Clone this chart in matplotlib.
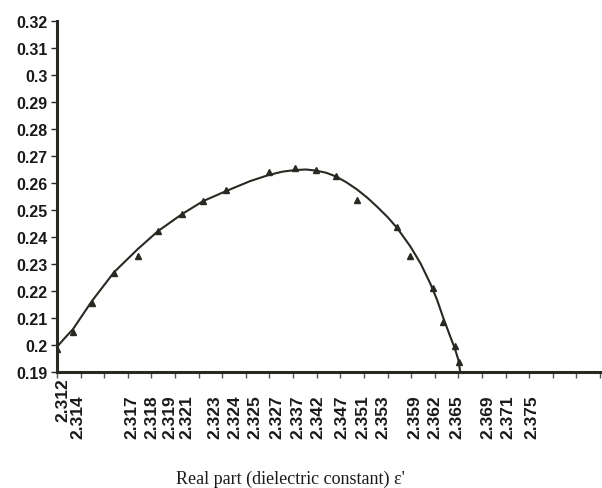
import matplotlib
matplotlib.use('Agg')
import matplotlib.pyplot as plt
import numpy as np

# x positions are in axis (category) units, 0..23
pt_x = [0.0, 0.68, 1.48, 2.42, 3.43, 4.28, 5.30, 6.19, 7.16, 8.98, 10.08,
        10.97, 11.82, 12.71, 14.41, 14.96, 15.93, 16.36, 16.86, 17.03]
pt_y = [0.1985, 0.2048, 0.2156, 0.2267, 0.2330, 0.2422, 0.2485, 0.2533,
        0.2574, 0.2641, 0.2656, 0.2648, 0.2626, 0.2537, 0.2437, 0.2330,
        0.2211, 0.2085, 0.1996, 0.1937]

# fitted curve
fit_x = [0.0, 0.3, 0.68, 1.48, 2.42, 3.43, 4.28, 5.30, 6.19, 7.16, 8.18,
         8.98, 9.55, 10.08, 10.55, 10.97, 11.40, 11.82, 12.25, 12.71, 13.15,
         13.56, 14.0, 14.41, 14.96, 15.40, 15.81, 16.10, 16.36, 16.62, 16.86,
         17.0, 17.08]
fit_y = [0.1993, 0.2023, 0.2059, 0.2163, 0.2270, 0.2356, 0.2422, 0.2485,
         0.2533, 0.2570, 0.2607, 0.2630, 0.2642, 0.2648, 0.2650, 0.2646,
         0.2638, 0.2624, 0.2603, 0.2576, 0.2545, 0.2512, 0.2474, 0.2433,
         0.2366, 0.2302, 0.2228, 0.2167, 0.2101, 0.2040, 0.1985, 0.1945,
         0.1900]

xlabels = ['2.312', '2.314', '2.317', '2.318', '2.319', '2.321', '2.323',
           '2.324', '2.325', '2.327', '2.337', '2.342', '2.347', '2.351',
           '2.353', '2.359', '2.362', '2.365', '2.369', '2.371', '2.375']
label_pos = [0.25, 0.89, 3.18, 4.03, 4.79, 5.51, 6.69, 7.54, 8.39, 9.32,
             10.21, 11.06, 12.08, 12.97, 13.81, 15.17, 16.02, 16.95, 18.26,
             19.11, 20.13]
yticks = [0.19, 0.2, 0.21, 0.22, 0.23, 0.24, 0.25, 0.26, 0.27, 0.28, 0.29,
          0.3, 0.31, 0.32]

ink = '#262a22'
fig = plt.figure(figsize=(6.02, 4.89), dpi=100)
ax = fig.add_axes([57 / 602, 116 / 489, 543 / 602, 351 / 489])

ax.plot(fit_x, fit_y, color=ink, lw=1.5, zorder=3)
ax.plot(pt_x, pt_y, '^', color=ink, ms=4, zorder=4)

ax.set_xlim(0, 23)
ax.set_ylim(0.19, 0.32)
for s in ['top', 'right']:
    ax.spines[s].set_visible(False)
for s in ['left', 'bottom']:
    ax.spines[s].set_linewidth(2.2)
    ax.spines[s].set_color(ink)

ax.set_yticks(yticks)
ax.set_yticklabels([f'{v:g}' for v in yticks], fontfamily='Liberation Sans',
                   fontweight='bold', fontsize=11.5, color='#1a1a1a')
ax.tick_params(axis='y', length=4, width=1, color=ink, pad=3)

ax.set_xticks(np.arange(24))
ax.set_xticklabels([''] * 24)
ax.tick_params(axis='x', length=4, width=1, color='#555555')

for i, (lab, xp) in enumerate(zip(xlabels, label_pos)):
    off = -4 if i == 0 else -16
    ax.annotate(lab, xy=(xp, 0), xycoords=('data', 'axes fraction'),
                xytext=(0, off), textcoords='offset points', rotation=90,
                ha='center', va='top', fontfamily='Liberation Sans',
                fontweight='bold', fontsize=12.5, color='#1a1a1a')

fig.text(290 / 602, 1 - 479 / 489, "Real part (dielectric constant) \u03b5'",
         ha='center', va='center', fontfamily='Liberation Serif', fontsize=13,
         color='#1a1a1a')

fig.savefig('out.png', dpi=100)
